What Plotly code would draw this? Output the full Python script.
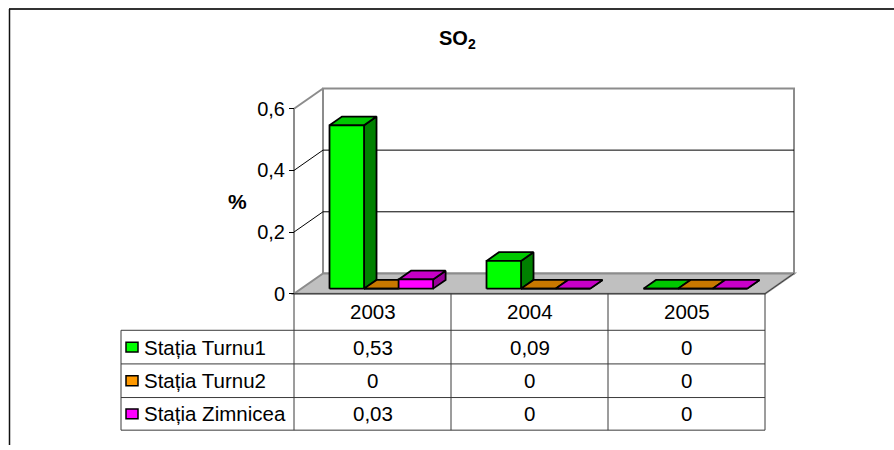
import plotly.graph_objects as go

# ---- data -------------------------------------------------------------
years = ["2003", "2004", "2005"]
stations = ["Stația Turnu1", "Stația Turnu2", "Stația Zimnicea"]
turnu1 = [0.53, 0.09, 0]
turnu2 = [0, 0, 0]
zimnicea = [0.03, 0, 0]
series = [turnu1, turnu2, zimnicea]
y_ticks = [0, 0.2, 0.4, 0.6]

# ---- styles -----------------------------------------------------------
front_colors = ["#00FF00", "#FF9900", "#FF00FF"]
top_colors = ["#00C800", "#C87800", "#C800C8"]
side_colors = ["#008000", "#804C00", "#990099"]
FONT = "Liberation Sans, Arial, sans-serif"

W, H = 894, 450
X0_PX, CAT_PX = 294, 157        # left edge of the front plane, width of one category
Y0_PX, UNIT_PX = 297, 311.67    # baseline of the front plane, pixels per 1.0 on the value axis
YMAX = y_ticks[-1]
N = len(years)

# oblique depth of the floor / walls, expressed in axis units
DX = 29 / CAT_PX
DY = 20.5 / UNIT_PX
# placement of the bar blocks inside the depth of the floor
BAR_START, BAR_W = 0.18, 0.22
D_FRONT, D_BACK = 0.25, 0.68


def px_x(px):
    return px / W


def px_y(py):
    return 1 - py / H


def fmt(v):
    return f"{v:g}".replace(".", ",")


fig = go.Figure()


def poly(xs, ys, fill, width=1.8):
    fig.add_trace(go.Scatter(
        x=xs + [xs[0]], y=ys + [ys[0]], mode="lines", fill="toself",
        fillcolor=fill, line=dict(color="black", width=width),
        hoverinfo="skip", showlegend=False))


# ---- 3D bar blocks ----------------------------------------------------
sx, sy = D_FRONT * DX, D_FRONT * DY
bdx, bdy = (D_BACK - D_FRONT) * DX, (D_BACK - D_FRONT) * DY
for i in range(N):
    for k, vals in enumerate(series):
        v = vals[i]
        xl = i + BAR_START + k * BAR_W + sx
        xr = xl + BAR_W
        yb, yt = sy, sy + v
        # side face
        poly([xr, xr + bdx, xr + bdx, xr], [yb, yb + bdy, yt + bdy, yt], side_colors[k])
        # top face
        poly([xl, xr, xr + bdx, xl + bdx], [yt, yt, yt + bdy, yt + bdy], top_colors[k])
        # front face
        poly([xl, xr, xr, xl], [yb, yb, yt, yt], front_colors[k])

shapes = []
# ---- walls and floor ---------------------------------------------------
shapes.append(dict(type="path", xref="x", yref="y", layer="below",
                   path=f"M {DX},{DY} L {DX},{YMAX + DY} L {N + DX},{YMAX + DY} L {N + DX},{DY} Z",
                   fillcolor="white", line=dict(color="#8C8C8C", width=2)))
shapes.append(dict(type="path", xref="x", yref="y", layer="below",
                   path=f"M 0,0 L {N},0 L {N + DX},{DY} L {DX},{DY} Z",
                   fillcolor="#C0C0C0", line=dict(color="#8C8C8C", width=2)))
# right floor edge
shapes.append(dict(type="line", xref="x", yref="y", layer="below",
                   x0=N, y0=0, x1=N + DX, y1=DY, line=dict(color="#404040", width=1)))
# left wall edges
shapes.append(dict(type="line", xref="x", yref="y", layer="below",
                   x0=0, y0=0, x1=0, y1=YMAX, line=dict(color="#8C8C8C", width=2)))
shapes.append(dict(type="line", xref="x", yref="y", layer="below",
                   x0=0, y0=YMAX, x1=DX, y1=YMAX + DY, line=dict(color="#8C8C8C", width=2)))
# gridlines on the back and side walls
for t in y_ticks[1:-1]:
    shapes.append(dict(type="line", xref="x", yref="y", layer="below",
                       x0=DX, y0=t + DY, x1=N + DX, y1=t + DY,
                       line=dict(color="black", width=1)))
    shapes.append(dict(type="line", xref="x", yref="y", layer="below",
                       x0=0, y0=t, x1=DX, y1=t + DY,
                       line=dict(color="black", width=1)))

# ---- data table ---------------------------------------------------------
TABLE_LINE = dict(color="#3A3A3A", width=1)
label_left = 121
col_edges = [X0_PX + CAT_PX * j for j in range(N + 1)]
row_edges = [Y0_PX, 334, 368, 402, 435]


def hline(py, a, b):
    shapes.append(dict(type="line", xref="paper", yref="paper",
                       x0=px_x(a), x1=px_x(b), y0=px_y(py), y1=px_y(py), line=TABLE_LINE))


def vline(px, a, b):
    shapes.append(dict(type="line", xref="paper", yref="paper",
                       x0=px_x(px), x1=px_x(px), y0=px_y(a), y1=px_y(b), line=TABLE_LINE))


hline(row_edges[0], col_edges[0], col_edges[-1])
for r in row_edges[1:]:
    hline(r, label_left, col_edges[-1])
vline(label_left, row_edges[1], row_edges[-1])
for c in col_edges:
    vline(c, row_edges[0], row_edges[-1])

annotations = []
TXT = dict(family=FONT, size=20.5, color="black")
for j, yr in enumerate(years):
    cx = (col_edges[j] + col_edges[j + 1]) / 2
    annotations.append(dict(xref="paper", yref="paper", x=px_x(cx),
                            y=px_y((row_edges[0] + row_edges[1]) / 2),
                            text=yr, showarrow=False, font=TXT,
                            xanchor="center", yanchor="middle"))
for k, name in enumerate(stations):
    cy = (row_edges[k + 1] + row_edges[k + 2]) / 2
    # legend key
    shapes.append(dict(type="rect", xref="paper", yref="paper",
                       x0=px_x(126), x1=px_x(138), y0=px_y(cy - 5), y1=px_y(cy + 5),
                       fillcolor=front_colors[k], line=dict(color="black", width=1.5)))
    annotations.append(dict(xref="paper", yref="paper", x=px_x(142), y=px_y(cy),
                            text=name, showarrow=False, font=TXT,
                            xanchor="left", yanchor="middle"))
    for j in range(N):
        cx = (col_edges[j] + col_edges[j + 1]) / 2
        annotations.append(dict(xref="paper", yref="paper", x=px_x(cx), y=px_y(cy),
                                text=fmt(series[k][j]), showarrow=False, font=TXT,
                                xanchor="center", yanchor="middle"))

# ---- title, axis title, outer frame -------------------------------------
annotations.append(dict(xref="paper", yref="paper", x=px_x(458), y=px_y(40),
                        text="<b>SO<sub>2</sub></b>", showarrow=False,
                        font=dict(family=FONT, size=20, color="black"),
                        xanchor="center", yanchor="middle"))
annotations.append(dict(xref="paper", yref="paper", x=px_x(237), y=px_y(204),
                        text="<b>%</b>", showarrow=False,
                        font=dict(family=FONT, size=21, color="black"),
                        xanchor="center", yanchor="middle"))
shapes.append(dict(type="line", xref="paper", yref="paper",
                   x0=px_x(9), x1=1, y0=px_y(9), y1=px_y(9),
                   line=dict(color="#333333", width=2)))
shapes.append(dict(type="line", xref="paper", yref="paper",
                   x0=px_x(9.5), x1=px_x(9.5), y0=px_y(9), y1=0,
                   line=dict(color="#111111", width=1.5)))

# ---- axes -------------------------------------------------------------
X_LEFT_PAD = 6 / CAT_PX
Y_LOW = -0.02
fig.update_layout(
    width=W, height=H,
    margin=dict(l=0, r=0, t=0, b=0),
    paper_bgcolor="white", plot_bgcolor="rgba(0,0,0,0)",
    showlegend=False,
    xaxis=dict(domain=[px_x(X0_PX - 6), 1],
               range=[-X_LEFT_PAD, (W - X0_PX) / CAT_PX],
               visible=False, fixedrange=True),
    yaxis=dict(domain=[px_y(Y0_PX - Y_LOW * UNIT_PX), 1],
               range=[Y_LOW, Y0_PX / UNIT_PX],
               anchor="free", position=px_x(X0_PX),
               showline=False, showgrid=False, zeroline=False,
               ticks="outside", ticklen=5, tickwidth=1, tickcolor="black",
               tickvals=y_ticks, ticktext=[fmt(t) for t in y_ticks],
               tickfont=dict(family=FONT, size=20, color="black"),
               fixedrange=True),
    shapes=shapes,
    annotations=annotations,
)

fig.write_html("out.html")
